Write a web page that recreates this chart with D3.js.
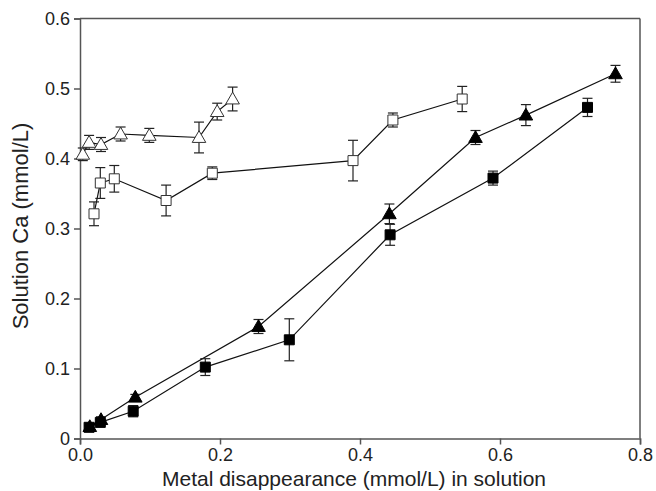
<!DOCTYPE html>
<html><head><meta charset="utf-8">
<script src="https://cdn.jsdelivr.net/npm/d3@7"></script>
<style>body{margin:0;background:#fff;}svg{display:block;font-family:"Liberation Sans",Arial,sans-serif;}</style>
</head><body><svg id="c" width="656" height="491"></svg>
<script>
// Open triangles
const openTriX = [0.004, 0.013, 0.030, 0.058, 0.099, 0.170, 0.196, 0.218];
const openTriY = [0.406, 0.423, 0.420, 0.435, 0.433, 0.430, 0.467, 0.485];
const openTriE = [0.009, 0.010, 0.010, 0.010, 0.010, 0.022, 0.012, 0.017];
// Open squares
const openSqX = [0.020, 0.029, 0.049, 0.123, 0.189, 0.390, 0.447, 0.546];
const openSqY = [0.321, 0.365, 0.371, 0.340, 0.379, 0.397, 0.455, 0.485];
const openSqE = [0.017, 0.022, 0.019, 0.022, 0.009, 0.029, 0.010, 0.018];
// Filled triangles
const fillTriX = [0.014, 0.030, 0.079, 0.255, 0.442, 0.565, 0.637, 0.765];
const fillTriY = [0.017, 0.027, 0.059, 0.160, 0.321, 0.430, 0.462, 0.521];
const fillTriE = [0.003, 0.004, 0.004, 0.010, 0.014, 0.010, 0.015, 0.012];
// Filled squares
const fillSqX = [0.013, 0.029, 0.076, 0.179, 0.299, 0.443, 0.590, 0.725];
const fillSqY = [0.016, 0.023, 0.039, 0.102, 0.141, 0.291, 0.372, 0.473];
const fillSqE = [0.002, 0.004, 0.008, 0.012, 0.030, 0.015, 0.010, 0.013];

const xTicks = [0, 0.2, 0.4, 0.6, 0.8];
const xTickLabels = ["0.0", "0.2", "0.4", "0.6", "0.8"];
const yTicks = [0, 0.1, 0.2, 0.3, 0.4, 0.5, 0.6];
const yTickLabels = ["0", "0.1", "0.2", "0.3", "0.4", "0.5", "0.6"];

const svg = d3.select("#c");
const L = 80, R = 640, T = 18.5, B = 438.5;
const x = d3.scaleLinear().domain([0, 0.8]).range([L, R]);
const y = d3.scaleLinear().domain([0, 0.6]).range([B, T]);
const axisColor = "#555";

// frame top/right
svg.append("line").attr("x1", L).attr("x2", R).attr("y1", T).attr("y2", T).attr("stroke", axisColor).attr("stroke-width", 1.5);
svg.append("line").attr("x1", R).attr("x2", R).attr("y1", T).attr("y2", B).attr("stroke", axisColor).attr("stroke-width", 1.5);

const xAxis = svg.append("g").attr("transform", `translate(0,${B})`)
  .call(d3.axisBottom(x).tickValues(xTicks).tickFormat((d, i) => xTickLabels[i]).tickSizeOuter(0).tickSize(6).tickPadding(4));
const yAxis = svg.append("g").attr("transform", `translate(${L},0)`)
  .call(d3.axisLeft(y).tickValues(yTicks).tickFormat((d, i) => yTickLabels[i]).tickSizeOuter(0).tickSize(6).tickPadding(4));
[xAxis, yAxis].forEach(g => {
  g.select(".domain").attr("stroke", axisColor).attr("stroke-width", 1.5);
  g.selectAll(".tick line").attr("stroke", axisColor).attr("stroke-width", 1.5);
  g.selectAll(".tick text").attr("fill", "#222").style("font-size", "18px").style("font-family", '"Liberation Sans",Arial,sans-serif');
});

svg.append("text").attr("x", 354).attr("y", 486).attr("text-anchor", "middle")
  .style("font-size", "21px").attr("fill", "#222").text("Metal disappearance (mmol/L) in solution");
svg.append("text").attr("transform", `translate(28,226) rotate(-90)`).attr("text-anchor", "middle")
  .style("font-size", "22px").attr("fill", "#222").text("Solution Ca (mmol/L)");

const series = [
  {xs: openTriX, ys: openTriY, es: openTriE, shape: d3.symbolTriangle, fill: "#fff"},
  {xs: openSqX, ys: openSqY, es: openSqE, shape: d3.symbolSquare, fill: "#fff"},
  {xs: fillSqX, ys: fillSqY, es: fillSqE, shape: d3.symbolSquare, fill: "#000"},
  {xs: fillTriX, ys: fillTriY, es: fillTriE, shape: d3.symbolTriangle, fill: "#000"}
];

const line = d3.line().x(d => x(d[0])).y(d => y(d[1]));
series.forEach(s => {
  const pts = s.xs.map((v, i) => [v, s.ys[i], s.es[i]]);
  svg.append("path").datum(pts).attr("d", line).attr("fill", "none").attr("stroke", "#111").attr("stroke-width", 1.2);
});
series.forEach(s => {
  const pts = s.xs.map((v, i) => [v, s.ys[i], s.es[i]]);
  const g = svg.append("g").attr("stroke", "#222").attr("stroke-width", 1.2);
  pts.forEach(p => {
    const cx = x(p[0]), y1 = y(p[1] + p[2]), y2 = y(p[1] - p[2]);
    g.append("line").attr("x1", cx).attr("x2", cx).attr("y1", y1).attr("y2", y2);
    g.append("line").attr("x1", cx - 5).attr("x2", cx + 5).attr("y1", y1).attr("y2", y1);
    g.append("line").attr("x1", cx - 5).attr("x2", cx + 5).attr("y1", y2).attr("y2", y2);
  });
});
series.forEach(s => {
  const pts = s.xs.map((v, i) => [v, s.ys[i], s.es[i]]);
  const sym = d3.symbol().type(s.shape).size(s.shape === d3.symbolSquare ? 100 : 80);
  svg.append("g").selectAll("path").data(pts).join("path")
    .attr("d", sym)
    .attr("transform", d => `translate(${x(d[0])},${y(d[1]) + (s.shape === d3.symbolTriangle ? 1 : 0)})`)
    .attr("fill", s.fill).attr("stroke", s.fill === "#fff" ? "#333" : "#000").attr("stroke-width", 1);
});
</script></body></html>
